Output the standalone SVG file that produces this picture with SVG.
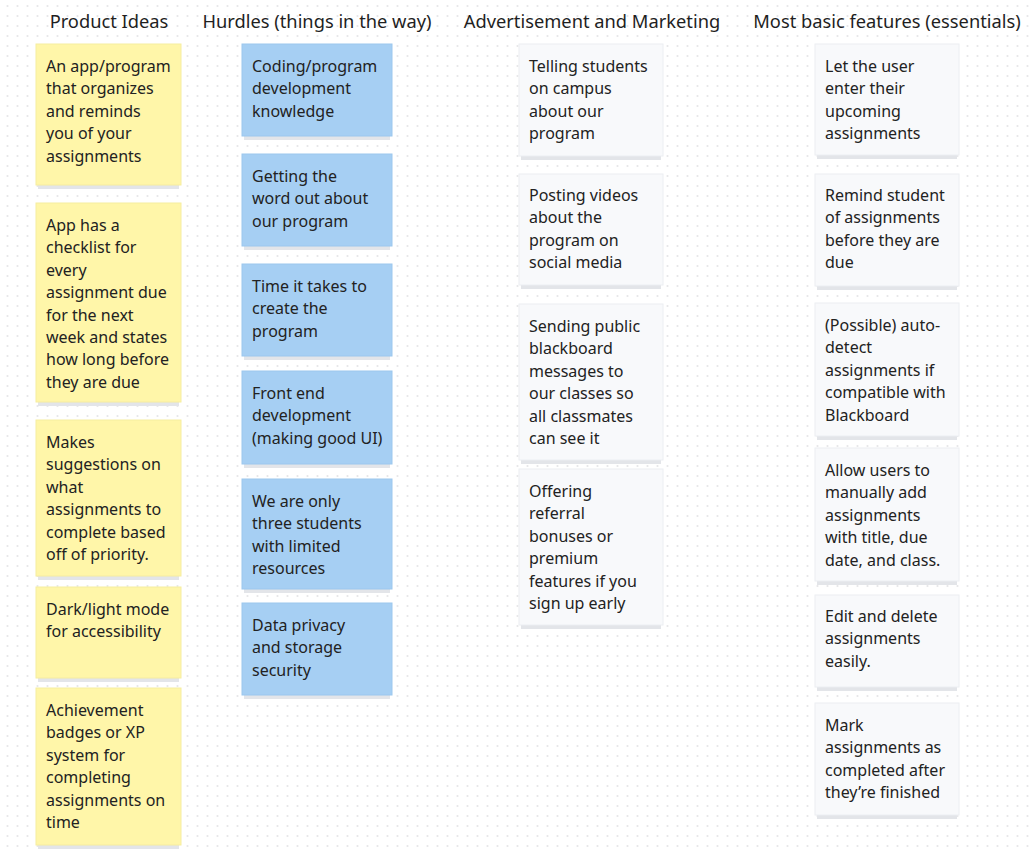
<svg xmlns="http://www.w3.org/2000/svg" width="1030" height="853" viewBox="0 0 1030 853">
<defs>
<pattern id="dots" x="0" y="0" width="10" height="10" patternUnits="userSpaceOnUse">
<circle cx="7.5" cy="6" r="1.1" fill="#e6e6e8"/>
</pattern>
<style>
.h{font-family:"Noto Sans","Open Sans",sans-serif;font-size:18.3px;fill:#1f1f1f;text-anchor:middle}
.t{font-family:"Noto Sans","Open Sans",sans-serif;font-size:16px;fill:#222222}
.y{fill:#fff6a9;stroke:#f6eda0;stroke-width:1}
.b{fill:#a6cff3;stroke:#9cc7ee;stroke-width:1}
.w{fill:#f8f9fb;stroke:#eceef2;stroke-width:1}
.s{fill:#e3e5e9}
</style>
</defs>
<rect width="1030" height="853" fill="#ffffff"/>
<rect width="1030" height="853" fill="url(#dots)"/>
<g id="headings">
<text class="h" x="109" y="28">Product Ideas</text>
<text class="h" x="317" y="28">Hurdles (things in the way)</text>
<text class="h" x="592" y="28">Advertisement and Marketing</text>
<text class="h" x="887" y="28">Most basic features (essentials)</text>
</g>
<g id="connectors"></g>
<!-- Product ideas -->
<g id="idea1">
<rect class="s" x="38" y="185" width="141" height="4"/>
<rect class="y" x="36" y="44" width="145" height="141"/>
<text class="t" x="46" y="72"><tspan x="46">An app/program</tspan><tspan x="46" dy="22.4">that organizes</tspan><tspan x="46" dy="22.4">and reminds</tspan><tspan x="46" dy="22.4">you of your</tspan><tspan x="46" dy="22.4">assignments</tspan></text>
</g>
<g id="idea2">
<rect class="s" x="38" y="402" width="141" height="4"/>
<rect class="y" x="36" y="203" width="145" height="199"/>
<text class="t" x="46" y="231"><tspan x="46">App has a</tspan><tspan x="46" dy="22.4">checklist for</tspan><tspan x="46" dy="22.4">every</tspan><tspan x="46" dy="22.4">assignment due</tspan><tspan x="46" dy="22.4">for the next</tspan><tspan x="46" dy="22.4">week and states</tspan><tspan x="46" dy="22.4">how long before</tspan><tspan x="46" dy="22.4">they are due</tspan></text>
</g>
<g id="idea3">
<rect class="s" x="38" y="576" width="141" height="4"/>
<rect class="y" x="36" y="420" width="145" height="156"/>
<text class="t" x="46" y="448"><tspan x="46">Makes</tspan><tspan x="46" dy="22.4">suggestions on</tspan><tspan x="46" dy="22.4">what</tspan><tspan x="46" dy="22.4">assignments to</tspan><tspan x="46" dy="22.4">complete based</tspan><tspan x="46" dy="22.4">off of priority.</tspan></text>
</g>
<g id="idea4">
<rect class="s" x="38" y="678" width="141" height="4"/>
<rect class="y" x="36" y="587" width="145" height="91"/>
<text class="t" x="46" y="615"><tspan x="46">Dark/light mode</tspan><tspan x="46" dy="22.4">for accessibility</tspan></text>
</g>
<g id="idea5">
<rect class="s" x="38" y="845" width="141" height="4"/>
<rect class="y" x="36" y="688" width="145" height="157"/>
<text class="t" x="46" y="716"><tspan x="46">Achievement</tspan><tspan x="46" dy="22.4">badges or XP</tspan><tspan x="46" dy="22.4">system for</tspan><tspan x="46" dy="22.4">completing</tspan><tspan x="46" dy="22.4">assignments on</tspan><tspan x="46" dy="22.4">time</tspan></text>
</g>
<!-- Hurdles -->
<g id="hurdle1">
<rect class="s" x="244" y="136" width="146" height="4"/>
<rect class="b" x="242" y="44" width="150" height="92"/>
<text class="t" x="252" y="72"><tspan x="252">Coding/program</tspan><tspan x="252" dy="22.4">development</tspan><tspan x="252" dy="22.4">knowledge</tspan></text>
</g>
<g id="hurdle2">
<rect class="s" x="244" y="246" width="146" height="4"/>
<rect class="b" x="242" y="154" width="150" height="92"/>
<text class="t" x="252" y="182"><tspan x="252">Getting the</tspan><tspan x="252" dy="22.4">word out about</tspan><tspan x="252" dy="22.4">our program</tspan></text>
</g>
<g id="hurdle3">
<rect class="s" x="244" y="356" width="146" height="4"/>
<rect class="b" x="242" y="264" width="150" height="92"/>
<text class="t" x="252" y="292"><tspan x="252">Time it takes to</tspan><tspan x="252" dy="22.4">create the</tspan><tspan x="252" dy="22.4">program</tspan></text>
</g>
<g id="hurdle4">
<rect class="s" x="244" y="464" width="146" height="4"/>
<rect class="b" x="242" y="371" width="150" height="93"/>
<text class="t" x="252" y="399"><tspan x="252">Front end</tspan><tspan x="252" dy="22.4">development</tspan><tspan x="252" dy="22.4">(making good UI)</tspan></text>
</g>
<g id="hurdle5">
<rect class="s" x="244" y="589" width="146" height="4"/>
<rect class="b" x="242" y="479" width="150" height="110"/>
<text class="t" x="252" y="507"><tspan x="252">We are only</tspan><tspan x="252" dy="22.4">three students</tspan><tspan x="252" dy="22.4">with limited</tspan><tspan x="252" dy="22.4">resources</tspan></text>
</g>
<g id="hurdle6">
<rect class="s" x="244" y="695" width="146" height="4"/>
<rect class="b" x="242" y="603" width="150" height="92"/>
<text class="t" x="252" y="631"><tspan x="252">Data privacy</tspan><tspan x="252" dy="22.4">and storage</tspan><tspan x="252" dy="22.4">security</tspan></text>
</g>
<!-- Advertisement -->
<g id="ad1">
<rect class="s" x="521" y="156" width="140" height="4"/>
<rect class="w" x="519" y="44" width="144" height="112"/>
<text class="t" x="529" y="72"><tspan x="529">Telling students</tspan><tspan x="529" dy="22.4">on campus</tspan><tspan x="529" dy="22.4">about our</tspan><tspan x="529" dy="22.4">program</tspan></text>
</g>
<g id="ad2">
<rect class="s" x="521" y="285" width="140" height="4"/>
<rect class="w" x="519" y="174" width="144" height="111"/>
<text class="t" x="529" y="201"><tspan x="529">Posting videos</tspan><tspan x="529" dy="22.4">about the</tspan><tspan x="529" dy="22.4">program on</tspan><tspan x="529" dy="22.4">social media</tspan></text>
</g>
<g id="ad3">
<rect class="s" x="521" y="460" width="140" height="4"/>
<rect class="w" x="519" y="304" width="144" height="156"/>
<text class="t" x="529" y="332"><tspan x="529">Sending public</tspan><tspan x="529" dy="22.4">blackboard</tspan><tspan x="529" dy="22.4">messages to</tspan><tspan x="529" dy="22.4">our classes so</tspan><tspan x="529" dy="22.4">all classmates</tspan><tspan x="529" dy="22.4">can see it</tspan></text>
</g>
<g id="ad4">
<rect class="s" x="521" y="625" width="140" height="4"/>
<rect class="w" x="519" y="469" width="144" height="156"/>
<text class="t" x="529" y="497"><tspan x="529">Offering</tspan><tspan x="529" dy="22.4">referral</tspan><tspan x="529" dy="22.4">bonuses or</tspan><tspan x="529" dy="22.4">premium</tspan><tspan x="529" dy="22.4">features if you</tspan><tspan x="529" dy="22.4">sign up early</tspan></text>
</g>
<!-- Features -->
<g id="feature1">
<rect class="s" x="817" y="155" width="140" height="4"/>
<rect class="w" x="815" y="44" width="144" height="111"/>
<text class="t" x="825" y="72"><tspan x="825">Let the user</tspan><tspan x="825" dy="22.4">enter their</tspan><tspan x="825" dy="22.4">upcoming</tspan><tspan x="825" dy="22.4">assignments</tspan></text>
</g>
<g id="feature2">
<rect class="s" x="817" y="286" width="140" height="4"/>
<rect class="w" x="815" y="174" width="144" height="112"/>
<text class="t" x="825" y="201"><tspan x="825">Remind student</tspan><tspan x="825" dy="22.4">of assignments</tspan><tspan x="825" dy="22.4">before they are</tspan><tspan x="825" dy="22.4">due</tspan></text>
</g>
<g id="feature3">
<rect class="s" x="817" y="436" width="140" height="4"/>
<rect class="w" x="815" y="303" width="144" height="133"/>
<text class="t" x="825" y="331"><tspan x="825">(Possible) auto-</tspan><tspan x="825" dy="22.4">detect</tspan><tspan x="825" dy="22.4">assignments if</tspan><tspan x="825" dy="22.4">compatible with</tspan><tspan x="825" dy="22.4">Blackboard</tspan></text>
</g>
<g id="feature4">
<rect class="s" x="817" y="581" width="140" height="4"/>
<rect class="w" x="815" y="448" width="144" height="133"/>
<text class="t" x="825" y="476"><tspan x="825">Allow users to</tspan><tspan x="825" dy="22.4">manually add</tspan><tspan x="825" dy="22.4">assignments</tspan><tspan x="825" dy="22.4">with title, due</tspan><tspan x="825" dy="22.4">date, and class.</tspan></text>
</g>
<g id="feature5">
<rect class="s" x="817" y="687" width="140" height="4"/>
<rect class="w" x="815" y="595" width="144" height="92"/>
<text class="t" x="825" y="622"><tspan x="825">Edit and delete</tspan><tspan x="825" dy="22.4">assignments</tspan><tspan x="825" dy="22.4">easily.</tspan></text>
</g>
<g id="feature6">
<rect class="s" x="817" y="815" width="140" height="4"/>
<rect class="w" x="815" y="703" width="144" height="112"/>
<text class="t" x="825" y="731"><tspan x="825">Mark</tspan><tspan x="825" dy="22.4">assignments as</tspan><tspan x="825" dy="22.4">completed after</tspan><tspan x="825" dy="22.4">they’re finished</tspan></text>
</g>
</svg>
